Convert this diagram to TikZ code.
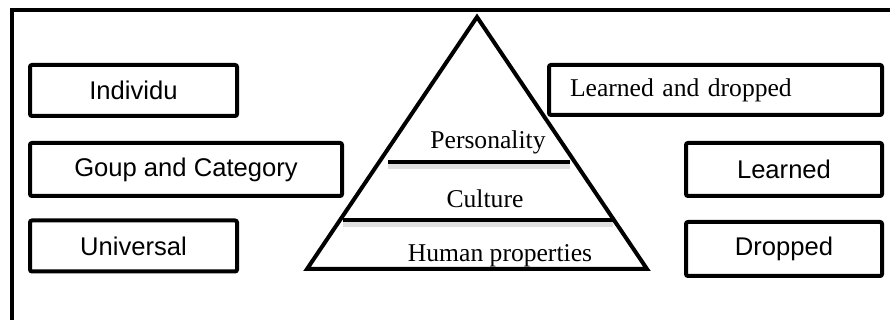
\documentclass[tikz,border=0pt]{standalone}
\usepackage{fontspec}
\setmainfont{Liberation Serif}
\setsansfont{Liberation Sans}
\usetikzlibrary{positioning}

\begin{document}
\begin{tikzpicture}[
  x=0.5pt, y=-0.5pt,
  label box/.style={rectangle, draw, line width=2pt, rounded corners=1pt, minimum height=25.5pt, align=center, font=\sffamily\fontsize{12.8}{15}\selectfont},
  layer text/.style={font=\fontsize{12.8}{15}\selectfont, inner sep=0pt},
  layer line/.style={line width=2.2pt},
  layer shadow/.style={line width=3pt, gray!25}
]
  \useasboundingbox (0,0) rectangle (890,320);
  \clip (0,0) rectangle (890,320);
  % outer frame, runs off the page on the right and bottom
  \draw[line width=2pt] (12,340) |- (910,10);

  % levels on the left
  \node[label box, minimum width=103.5pt] (individu) at (133.5,90.5) {Individu};
  \node[label box, minimum width=156pt, minimum height=26.5pt] (group) at (186,169.5) {Goup and Category};
  \node[label box, minimum width=103.5pt] (universal) at (133.5,246) {Universal};

  % pyramid
  \coordinate (apex) at (477,17);
  \coordinate (baseL) at (307,269);
  \coordinate (baseR) at (647,269);
  \draw[line width=2pt, line join=miter] (apex) -- (baseR) -- (baseL) -- cycle;

  \coordinate (persL) at (388,162);
  \coordinate (persR) at (570,162);
  \coordinate (cultL) at (343,220);
  \coordinate (cultR) at (613,220);
  \draw[layer shadow] ([yshift=-2pt]persL) -- ([yshift=-2pt]persR);
  \draw[layer shadow] ([yshift=-2pt]cultL) -- ([yshift=-2pt]cultR);
  \draw[layer line] (persL) -- (persR);
  \draw[layer line] (cultL) -- (cultR);

  \node[layer text] (pers) at (488,142) {Personality};
  \node[layer text] (cult) at (485,199) {Culture};
  \node[layer text] (human) at (500,256) {Human properties};

  % how each level is acquired
  \node[label box, font=\fontsize{12.8}{15}\selectfont, inner xsep=10.5pt, text width=145.5pt, minimum height=25pt, align=left] (learndrop) at (715.5,90) {Learned and dropped};
  \node[label box, minimum width=98pt, minimum height=26.5pt] (learned) at (784,169.5) {Learned};
  \node[label box, minimum width=98pt, minimum height=27pt] (dropped) at (784,249) {Dropped};
\end{tikzpicture}
\end{document}
